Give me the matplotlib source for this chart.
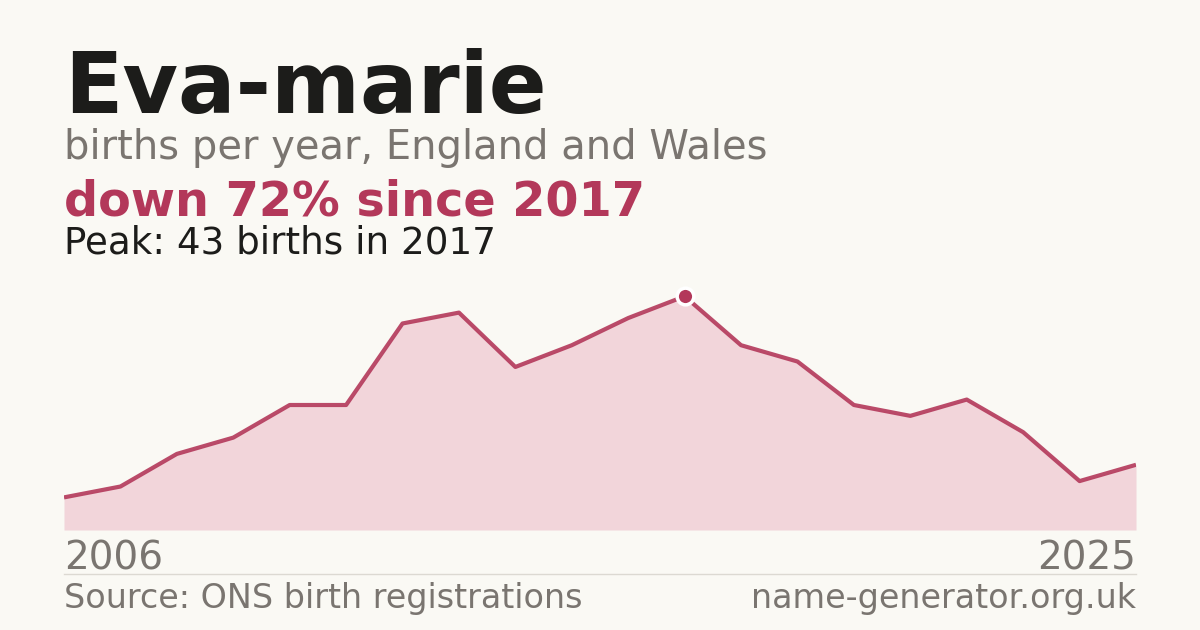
import numpy as np
import matplotlib.pyplot as plt

# births per year for the name
years = list(range(2006, 2026))
births = [6, 8, 14, 17, 23, 23, 38, 40, 30, 34, 39, 43, 34, 31, 23, 21, 24, 18, 9, 12]

name = "Eva-marie"
subtitle = "births per year, England and Wales"
change_text = "down 72% since 2017"
peak_text = "Peak: 43 births in 2017"
source_text = "Source: ONS birth registrations"
site_text = "name-generator.org.uk"

bg = '#faf9f4'
accent = '#b3385a'
fill_col = '#f2d5da'
grey = '#7a7570'

W, H = 1200, 630
fig = plt.figure(figsize=(W / 100, H / 100), dpi=100, facecolor=bg)

def fx(px):
    return px / W

def fy(py):
    return 1 - py / H

# title block
fig.text(fx(64), fy(113), name, fontsize=61.5, fontweight='bold', color='#1c1c1a', va='baseline')
fig.text(fx(64), fy(159), subtitle, fontsize=28.8, color=grey, va='baseline')
fig.text(fx(64), fy(215), change_text, fontsize=34.4, fontweight='bold', color=accent, va='baseline')
fig.text(fx(64), fy(253), peak_text, fontsize=26.8, color='#1c1c1a', va='baseline')

# chart
ax = fig.add_axes([fx(64), fy(530), fx(1136) - fx(64), fy(280) - fy(530)])
ax.set_facecolor('none')
ax.fill_between(years, births, 0, color=fill_col, lw=0)
ax.plot(years, births, color=accent, lw=3, alpha=0.9, solid_capstyle='butt')
pk = int(np.argmax(births))
ax.plot(years[pk], births[pk], 'o', ms=12, color=accent, mec='white', mew=2.5, zorder=5)
ax.set_xlim(years[0], years[-1])
ax.set_ylim(0, 46)
ax.axis('off')

# year labels
fig.text(fx(64), fy(570), str(years[0]), fontsize=28, color=grey, va='baseline')
fig.text(fx(1136), fy(570), str(years[-1]), fontsize=28, color=grey, va='baseline', ha='right')

# separator
fig.add_artist(plt.Line2D([fx(64), fx(1136)], [fy(574), fy(574)], color='#dcd9d2', lw=1))

fig.text(fx(64), fy(608), source_text, fontsize=24, color=grey, va='baseline')
fig.text(fx(1136), fy(608), site_text, fontsize=24, color=grey, va='baseline', ha='right')

fig.savefig('out.png', dpi=100, facecolor=bg)
